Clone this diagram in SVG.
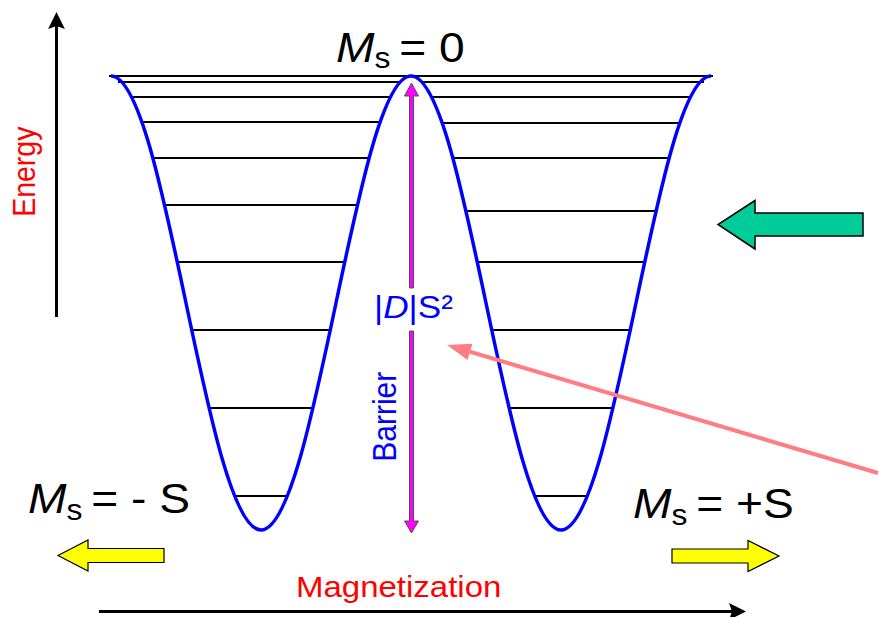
<svg xmlns="http://www.w3.org/2000/svg" width="879" height="617" viewBox="0 0 879 617">
<defs>
<style>
.lvl{stroke:#000;stroke-width:2.2;fill:none}
.curve{stroke:#0000ff;stroke-width:3.5;fill:none;stroke-linejoin:round}
.axis{stroke:#000;stroke-width:3;fill:none}
.txt{font-family:"Liberation Sans",Arial,Helvetica,sans-serif}
.red{fill:#ff0000}
.blue{fill:#0000ff}
.big{font-size:42px;fill:#000}
.sub{font-size:29px}
.yel{fill:#ffff00;stroke:#000;stroke-width:1.2;stroke-linejoin:miter}
.grn{fill:#00cc99;stroke:#000;stroke-width:1.5}
.mag{fill:#ff00ff;stroke:#505050;stroke-width:1}
.pink{stroke:#ff7c80;stroke-width:4;fill:none}
</style>
<marker id="ah" markerUnits="userSpaceOnUse" markerWidth="18" markerHeight="18" refX="12" refY="8.4" orient="auto">
<path d="M0,0 L17,8.4 L0,16.8 L3,8.4 Z" fill="#000"/>
</marker>
<marker id="ph" markerUnits="userSpaceOnUse" markerWidth="26" markerHeight="18" refX="18" refY="8.5" orient="auto">
<path d="M0,0 L24,8.5 L0,17 Z" fill="#ff7c80"/>
</marker>
</defs>
<rect width="879" height="617" fill="#fff"/>

<g id="potential">
<g id="levels">
<line class="lvl" x1="109" y1="76" x2="713" y2="76"/>
<line class="lvl" x1="118" y1="82" x2="400" y2="82"/>
<line class="lvl" x1="422" y1="82" x2="704" y2="82"/>
<line class="lvl" x1="131.7" y1="97" x2="390.3" y2="97"/>
<line class="lvl" x1="431.7" y1="97" x2="690.3" y2="97"/>
<line class="lvl" x1="141.9" y1="122" x2="380.1" y2="122"/>
<line class="lvl" x1="441.9" y1="123" x2="680.1" y2="123"/>
<line class="lvl" x1="152.9" y1="158" x2="369.1" y2="158"/>
<line class="lvl" x1="452.9" y1="158" x2="669.1" y2="158"/>
<line class="lvl" x1="164.7" y1="205" x2="357.3" y2="205"/>
<line class="lvl" x1="466.1" y1="211" x2="655.9" y2="211"/>
<line class="lvl" x1="177.3" y1="262" x2="344.7" y2="262"/>
<line class="lvl" x1="477.3" y1="262" x2="644.7" y2="262"/>
<line class="lvl" x1="191.7" y1="330" x2="330.3" y2="330"/>
<line class="lvl" x1="491.7" y1="330" x2="630.3" y2="330"/>
<line class="lvl" x1="209" y1="408" x2="313" y2="408"/>
<line class="lvl" x1="509" y1="408" x2="613" y2="408"/>
<line class="lvl" x1="234.5" y1="496" x2="287.5" y2="496"/>
<line class="lvl" x1="534.5" y1="496" x2="587.5" y2="496"/>
</g>
<path id="double-well" class="curve" d="M111,76 C165.5,76 206.5,530 261,530 C315.5,530 356.5,76 411,76 C465.5,76 506.5,530 561,530 C615.5,530 656.5,76 711,76"/>
</g>

<g id="connectors">
<line id="energy-axis" class="axis" x1="56.5" y1="317" x2="56.5" y2="17" marker-end="url(#ah)"/>
<line id="magnetization-axis" class="axis" x1="99" y1="611.5" x2="741" y2="611.5" marker-end="url(#ah)"/>
<line id="pointer" class="pink" x1="878" y1="473" x2="452.8" y2="346.7" marker-end="url(#ph)"/>
<g id="barrier-arrow">
<polygon class="mag" points="411.5,83 418.5,96 413.5,96 413.5,288 409.5,288 409.5,96 404.5,96"/>
<polygon class="mag" points="409.5,331 413.5,331 413.5,521 418.5,521 411.5,533 404.5,521 409.5,521"/>
</g>
</g>

<g id="label-ms0">
<text class="txt big" transform="translate(336,62) scale(1.1,1)"><tspan font-style="italic">M</tspan><tspan class="sub" dy="6">s </tspan><tspan dy="-6">= 0</tspan></text>
</g>
<g id="label-energy">
<text class="txt red" font-size="28.5" text-anchor="middle" transform="translate(35,171.7) scale(1.1,1) rotate(-90)">Energy</text>
</g>
<g id="label-dS2">
<text class="txt blue" font-size="32" transform="translate(374,318) scale(1.1,1)">|<tspan font-style="italic">D</tspan>|S²</text>
</g>
<g id="label-barrier">
<text class="txt blue" font-size="30" text-anchor="middle" transform="translate(396,416.7) scale(1.1,1) rotate(-90)">Barrier</text>
</g>
<g id="label-ms-minus">
<text class="txt big" transform="translate(28,513) scale(1.1,1)"><tspan font-style="italic">M</tspan><tspan class="sub" dy="7">s </tspan><tspan dy="-7">= - S</tspan></text>
</g>
<g id="label-ms-plus">
<text class="txt big" transform="translate(633,518) scale(1.1,1)"><tspan font-style="italic">M</tspan><tspan class="sub" dy="7">s </tspan><tspan dy="-7">= +S</tspan></text>
</g>
<g id="label-magnetization">
<text class="txt red" font-size="30" transform="translate(296,597) scale(1.1,1)">Magnetization</text>
</g>

<g id="arrow-left-yellow">
<polygon class="yel" points="164,548.5 88,548.5 88,540 58,555.5 88,571 88,562.5 164,562.5"/>
</g>
<g id="arrow-right-yellow">
<polygon class="yel" points="672,549 748,549 748,540.5 779,556 748,571.5 748,563 672,563"/>
</g>
<g id="arrow-green">
<polygon class="grn" points="863,213 755,213 755,200.5 718,224.5 755,249 755,236 863,236"/>
</g>
</svg>
